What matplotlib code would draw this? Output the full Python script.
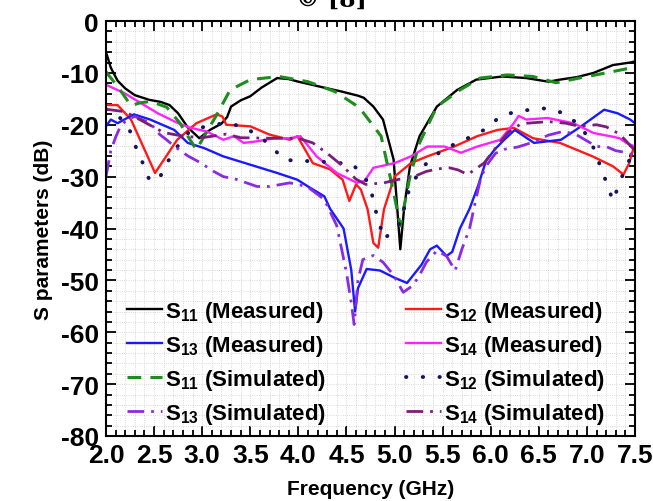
import numpy as np
import matplotlib
matplotlib.use("Agg")
import matplotlib.pyplot as plt
from matplotlib.ticker import MultipleLocator

plt.rcParams['font.family'] = ['Liberation Sans', 'DejaVu Sans']
plt.rcParams['font.weight'] = 'bold'
plt.rcParams['mathtext.fontset'] = 'custom'
plt.rcParams['mathtext.rm'] = 'Liberation Sans:bold'
plt.rcParams['mathtext.default'] = 'rm'
plt.rcParams['axes.unicode_minus'] = False

# S11 measured
f_s11m = [2.0, 2.05, 2.12, 2.2, 2.3, 2.45, 2.57, 2.66, 2.75, 2.85, 2.97, 3.08, 3.2, 3.26, 3.3, 3.4, 3.5,
          3.62, 3.78, 3.9, 4.0, 4.12, 4.28, 4.45, 4.62, 4.68, 4.78, 4.88, 4.99, 5.06, 5.1, 5.16, 5.26,
          5.44, 5.65, 5.85, 6.12, 6.37, 6.6, 6.72, 6.9, 7.07, 7.27, 7.45, 7.5]
s11m = [-6, -9, -11.5, -13, -14.3, -15.2, -15.6, -16.2, -17.8, -20.5, -22.6, -21, -19.8, -18.5, -16.5,
        -15.3, -14.5, -12.8, -11, -11.2, -11.7, -12.2, -12.9, -13.6, -14.4, -14.8, -16.5, -19, -26.7,
        -44, -36, -28, -22.2, -16.5, -13.3, -11.3, -10.7, -11, -11.7, -11.3, -10.8, -10, -8.5, -8, -7.8]

# S12 measured
f_s12m = [2.0, 2.12, 2.26, 2.51, 2.74, 2.94, 3.15, 3.21, 3.25, 3.5, 3.7, 3.91, 3.99, 4.15, 4.33, 4.46,
          4.53, 4.6, 4.65, 4.72, 4.78, 4.83, 4.89, 5.0, 5.17, 5.34, 5.62, 5.86, 6.07, 6.24, 6.44, 6.72,
          7.06, 7.27, 7.38, 7.44, 7.48, 7.5]
s12m = [-16.2, -16.2, -19, -29.3, -22.9, -19.7, -18, -18.4, -20, -20.3, -21.9, -22.9, -22.2, -27.4,
        -28.6, -30.6, -34.7, -31.5, -32.5, -36.3, -42.8, -43.7, -36.3, -30, -27.4, -26.1, -24.2, -22.2,
        -21, -20.6, -22.6, -23.5, -26.1, -28, -29.6, -27.4, -24.8, -24]

# S13 measured
f_s13m = [2.0, 2.05, 2.12, 2.29, 2.46, 2.71, 2.85, 3.02, 3.22, 3.5, 3.78, 3.99, 4.1, 4.27, 4.33, 4.47,
          4.55, 4.59, 4.62, 4.71, 4.85, 5.0, 5.13, 5.28, 5.37, 5.44, 5.54, 5.6, 5.68, 5.78, 5.87, 5.95,
          6.04, 6.14, 6.25, 6.45, 6.73, 6.94, 7.18, 7.32, 7.45, 7.5]
s13m = [-20.3, -19, -19.7, -18, -19, -21, -23.5, -24.5, -26.1, -27.7, -29.3, -30.6, -31.9, -33.8, -36.2,
        -40, -48, -56, -51.5, -47.8, -48.1, -49.5, -50.5, -47, -44, -43.3, -45.3, -44.5, -40, -36.2,
        -31.7, -27, -24.8, -22.9, -21, -23.5, -22.9, -20.3, -17.1, -17.8, -19, -19.7]

# S14 measured
f_s14m = [2.0, 2.19, 2.36, 2.54, 2.75, 2.88, 3.05, 3.22, 3.33, 3.43, 3.57, 3.75, 3.92, 4.02, 4.19, 4.4,
          4.61, 4.69, 4.78, 5.0, 5.17, 5.34, 5.52, 5.69, 5.86, 6.1, 6.24, 6.29, 6.37, 6.59, 6.86, 7.07,
          7.24, 7.34, 7.41, 7.5]
s14m = [-12.3, -13.9, -15.8, -17.8, -19.7, -20.6, -21.3, -22.9, -22.2, -23.5, -23.2, -22.6, -22.6, -22.2,
        -26.1, -29.3, -31.2, -30.8, -28.3, -27.4, -26.1, -24.2, -24.2, -25.4, -24.2, -22.9, -19.7, -18.3,
        -19, -18.7, -19.7, -21.6, -22.2, -22.6, -23.5, -24.2]

# S11 simulated
f_s11s = [2.0, 2.12, 2.26, 2.35, 2.46, 2.63, 2.77, 2.85, 2.94, 3.04, 3.16, 3.29, 3.5, 3.8, 4.1, 4.38,
          4.62, 4.68, 4.86, 4.99, 5.06, 5.16, 5.26, 5.44, 5.68, 5.89, 6.17, 6.44, 6.68, 6.92, 7.2, 7.47, 7.5]
s11s = [-9.8, -12.6, -16.3, -15.8, -15.5, -16.6, -19.7, -22.2, -24.8, -21.6, -17.8, -13.3, -11.3, -10.7,
        -11.7, -13.6, -16.5, -17.8, -22.2, -33, -39.5, -30, -23.5, -16.5, -13.3, -11, -10.4, -10.7,
        -11.9, -11, -10, -9, -9]

# S12 simulated
f_s12s = [2.0, 2.1, 2.2, 2.26, 2.32, 2.39, 2.45, 2.55, 2.62, 2.69, 2.75, 2.88, 3.05, 3.22, 3.43, 3.64,
          3.75, 3.85, 3.99, 4.2, 4.37, 4.55, 4.69, 4.76, 4.8, 4.89, 4.99, 5.06, 5.16, 5.3, 5.5, 5.76,
          5.93, 6.1, 6.27, 6.42, 6.59, 6.76, 6.94, 7.08, 7.15, 7.22, 7.27, 7.34, 7.42, 7.5]
s12s = [-17, -18, -19.5, -21.6, -24.8, -27.7, -30.6, -30.6, -27.7, -25.8, -24, -21, -20.3, -19.7, -20.3,
        -22.9, -24.8, -26.7, -27, -27, -27.4, -27.4, -30, -33, -36.3, -42.1, -40.2, -38.9, -31.9, -28,
        -24.8, -22.6, -21, -18.4, -17.4, -17.1, -16.8, -17.8, -20.3, -24.8, -28.6, -31.9, -34.7, -31.2,
        -27.4, -25.4]

# S13 simulated
f_s13s = [2.0, 2.02, 2.05, 2.1, 2.15, 2.22, 2.3, 2.46, 2.56, 2.63, 2.7, 2.85, 2.98, 3.12, 3.22, 3.35,
          3.57, 3.7, 3.91, 4.09, 4.27, 4.4, 4.5, 4.55, 4.58, 4.62, 4.67, 4.78, 4.88, 4.99, 5.09, 5.19,
          5.26, 5.33, 5.44, 5.54, 5.63, 5.7, 5.78, 5.85, 5.9, 5.97, 6.05, 6.15, 6.28, 6.45, 6.6, 6.75,
          6.88, 6.99, 7.1, 7.2, 7.3, 7.42, 7.5]
s13s = [-30, -28, -25, -22.4, -20.3, -19, -18.4, -19.7, -21.9, -22.9, -24, -26, -27.3, -29, -30, -30.5,
        -31.9, -31.9, -31.2, -31.9, -34.4, -39.5, -48.5, -54.3, -58.5, -50, -46, -45.2, -46.5, -49,
        -52.3, -51, -49, -46.5, -44.3, -45.3, -48.1, -44, -40, -34, -30, -27.5, -25.5, -24.7, -24.3,
        -23.3, -22, -21.3, -21.8, -23, -24.2, -24.2, -25, -25.4, -26]

# S14 simulated
f_s14s = [2.0, 2.2, 2.39, 2.6, 2.8, 3.0, 3.25, 3.4, 3.7, 4.0, 4.15, 4.3, 4.45, 4.6, 4.7, 4.89, 5.05,
          5.2, 5.33, 5.45, 5.57, 5.66, 5.76, 5.86, 5.93, 6.05, 6.18, 6.3, 6.38, 6.45, 6.6, 6.78, 6.92,
          7.1, 7.2, 7.32, 7.38, 7.45, 7.5]
s14s = [-17, -17.5, -19.4, -21.5, -22.2, -22.5, -21.8, -22.5, -22.6, -22.6, -23.5, -25.5, -27.8, -30.5,
        -31.5, -31.2, -30.5, -30, -29, -28.5, -28.3, -28.7, -29.6, -28.3, -27.4, -24.5, -21.5, -20,
        -19.7, -19.6, -19.4, -19.7, -20.3, -20, -20.4, -21.6, -22.6, -24, -25]

xticks = [2.0, 2.5, 3.0, 3.5, 4.0, 4.5, 5.0, 5.5, 6.0, 6.5, 7.0, 7.5]

fig = plt.figure(figsize=(6.53, 5.02), dpi=100)
ax = fig.add_axes([106 / 653, 1 - 437 / 502, 529 / 653, 415 / 502])

lw = 1.7
l1, = ax.plot(f_s11m, s11m, color='black', lw=lw, label=r'S$_{11}$ (Measured)')
l2, = ax.plot(f_s12m, s12m, color='#ff1a1a', lw=lw, label=r'S$_{12}$ (Measured)')
l3, = ax.plot(f_s13m, s13m, color='#1a1aff', lw=lw, label=r'S$_{13}$ (Measured)')
l4, = ax.plot(f_s14m, s14m, color='#ff22ff', lw=lw, label=r'S$_{14}$ (Measured)')
l5, = ax.plot(f_s11s, s11s, color='#1e8c1e', lw=2.2, ls=(0, (4.5, 3)), label=r'S$_{11}$ (Simulated)')
l6, = ax.plot(f_s12s, s12s, color='#14145f', lw=2.8, ls=(0, (0.1, 4.2)), dash_capstyle='round',
              label=r'S$_{12}$ (Simulated)')
l7, = ax.plot(f_s13s, s13s, color='#8a2be2', lw=2.0, ls=(0, (6, 2.5, 1, 2.5)), label=r'S$_{13}$ (Simulated)')
l8, = ax.plot(f_s14s, s14s, color='#7a1f78', lw=2.0, ls=(0, (6, 2.5, 1, 2.5)), label=r'S$_{14}$ (Simulated)')

ax.set_xlim(2.0, 7.5)
ax.set_ylim(-80, 0)
ax.set_xticks(xticks)
ax.set_xticklabels(['%.1f' % v for v in xticks])
ax.xaxis.set_minor_locator(MultipleLocator(0.1))
ax.yaxis.set_major_locator(MultipleLocator(10))
ax.yaxis.set_minor_locator(MultipleLocator(2))
ax.tick_params(which='both', direction='in', top=True, right=True, width=1.3)
ax.tick_params(which='major', length=7, labelsize=19)
ax.tick_params(axis='x', which='major', pad=5)
ax.tick_params(axis='y', which='major', pad=5)
ax.tick_params(which='minor', length=4)
for lab in ax.get_xticklabels() + ax.get_yticklabels():
    lab.set_fontweight('bold')
ax.grid(which='both', color='#cccccc', ls=':', lw=0.6)
for sp in ax.spines.values():
    sp.set_linewidth(1.5)

ax.set_xlabel('Frequency (GHz)', fontsize=15, fontweight='bold', labelpad=9)
ax.set_ylabel('S parameters (dB)', fontsize=15, fontweight='bold', labelpad=6)

leg = ax.legend(handles=[l1, l3, l5, l7, l2, l4, l6, l8], ncol=2, loc='lower left',
                bbox_to_anchor=(0.04, 0.025), frameon=False, borderpad=0, borderaxespad=0,
                handlelength=1.55, handletextpad=0.15, columnspacing=3.6, labelspacing=0.4,
                prop={'family': 'Liberation Sans', 'weight': 'bold', 'size': 16})

fig.text(331 / 653, 1 - 7 / 502, '\u00a9 [8]', ha='center', va='baseline', fontsize=17,
         fontweight='bold', family='DejaVu Serif')

fig.savefig('out.png', dpi=100)
